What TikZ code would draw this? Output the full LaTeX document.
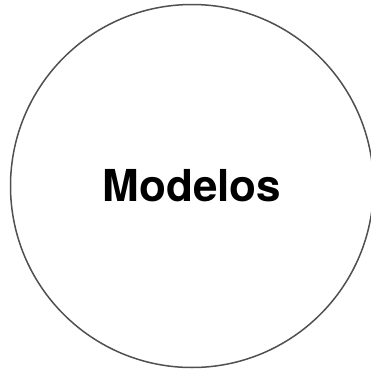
\documentclass[tikz,border=0pt]{standalone}
\usepackage{fontspec}
\setmainfont{TeX Gyre Heros}
\definecolor{ringgray}{HTML}{505050}
\tikzset{
  ring/.style={draw=ringgray, line width=1.5pt, circle, minimum size=363pt, inner sep=0pt},
  ringlabel/.style={font=\fontsize{44}{48}\selectfont\bfseries, text=black}
}

\begin{document}
\begin{tikzpicture}[x=1pt, y=1pt]

  \path[use as bounding box, clip] (0,0) rectangle (371,-373);

  \node[ring, ringlabel] (modelos) at (192,-186) {Modelos};

\end{tikzpicture}
\end{document}
